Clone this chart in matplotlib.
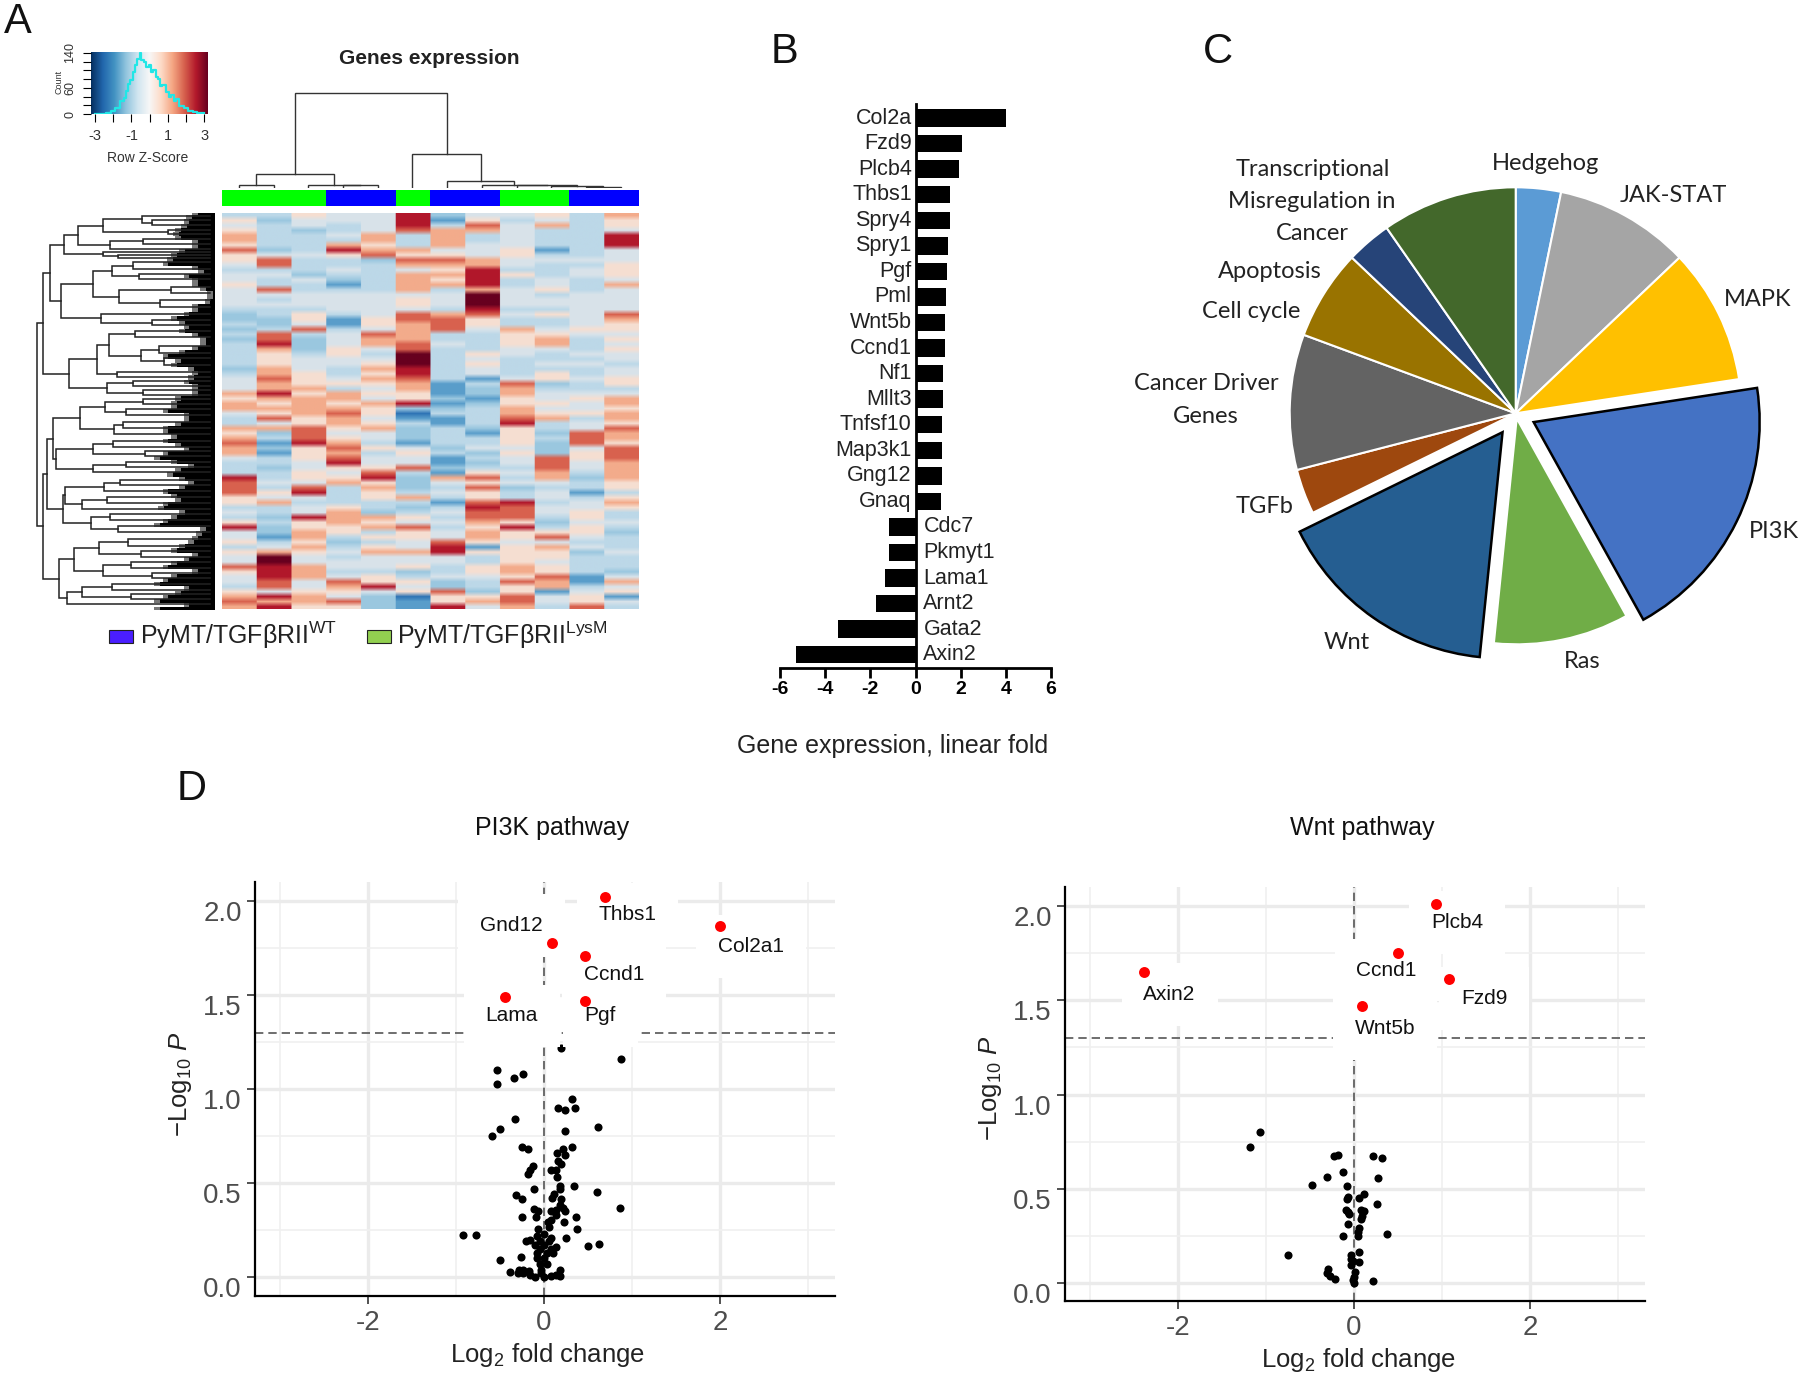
import matplotlib
matplotlib.use('Agg')
import matplotlib.pyplot as plt
import numpy as np
from matplotlib.colors import LinearSegmentedColormap, ListedColormap
from matplotlib.patches import Rectangle

plt.rcParams['font.family'] = ['Liberation Sans', 'DejaVu Sans']
plt.rcParams['mathtext.fontset'] = 'custom'
plt.rcParams['mathtext.rm'] = 'Liberation Sans'
plt.rcParams['mathtext.it'] = 'Liberation Sans:italic'
plt.rcParams['mathtext.bf'] = 'Liberation Sans:bold'
plt.rcParams['axes.unicode_minus'] = False

W, H = 1800, 1377

# A: heatmap levels, one string per row, 0 = deep blue ... 9 = darkest red
heat_rows = [
    '335448244536', '524448153435', '434348374635', '532347664334', '633463634338',
    '633363634338', '533653644338', '723866445134', '544575545334', '573327764444',
    '473336664335', '333434583345', '442336685345', '434236583434', '533136683436',
    '473336364534', '444444494344', '434445494444', '444445494444', '333444383344',
    '235347674547', '225157753346', '324156753345', '237346746455', '373476335544',
    '272466335635', '382467435634', '362547334435', '353539354344', '354449343334',
    '354459353443', '264368343334', '365358343534', '475467314545', '465556137235',
    '466346126333', '685655126444', '566645215456', '656568125546', '666652236445',
    '456750336556', '375641137636', '345653138345', '667562325347', '527442315276',
    '637542335376', '718631335275', '625754244247', '615635325257', '435744134757',
    '334844124746', '324557233746', '335473154636', '835582673626', '744652454435',
    '737362372335', '758353453413', '544356353435', '563333178346', '334532387445',
    '434623477453', '328665377353', '535654465244', '825567358353', '426535465552',
    '416355465743', '535234754433', '346354815643', '565466855524', '494344435533',
    '494444435433', '786445356533', '586332356532', '486453445714', '474755237616',
    '374684235634', '545545725145', '686420557451', '766721567454', '685521846373',
]
column_groups = [0, 0, 0, 1, 1, 0, 1, 1, 0, 0, 1, 1]
col_tree = (225, (33, (7, 0, 1), (7, 2, (6, 3, 4))),
            (81, 5, (17, 6, (7, 7, (6, 8, (5, 9, (3, 10, 11)))))))
row_tree = (88,
            (101,
             (118,
              (152,
               (185, (245, (338, 512, (360, 522, 534)), (398, 545, 556)), (262, (340, 566, 578), 590)),
               (245, 598, (280, 604, 612))),
              (145,
               (222, (265, (315, 622, 638), (330, 650, 662)), (282, (405, 680, 696), (380, 712, 728))),
               (240, 745, (360, 760, 772)))),
             (165,
              (230, (260, (320, 786, 800), (335, (378, 822, 838), (390, 850, 866))), (278, 882, 894)),
              (255, (315, 904, 916), (340, 926, 938)))),
            (101,
             (111,
              (127,
               (190, (250, (340, 948, 960), (300, 972, 986)), (270, (292, 1002, 1016), 1030)),
               (132, (222, (268, 1048, 1062), (345, 1072, 1084)), (222, (300, 1098, 1110), 1122))),
              (150,
               (155, (248, (285, 1140, 1152), 1166), (195, (255, 1180, 1194), 1208)),
               (215, (262, 1222, 1236), (280, 1250, 1264)))),
             (141,
              (175, (235, (305, 1280, 1296), (335, 1310, 1322)), (245, (310, 1336, 1350), (360, 1362, 1374))),
              (160, (195, (265, 1388, 1402), (310, 1412, 1424)), 1436))))
row_edge = [470, 455, 450, 445, 430, 425, 430, 470, 470, 440, 420, 410, 400, 470, 485, 450, 470, 470, 490, 505,
            505, 500, 470, 470, 450, 420, 440, 450, 440, 470, 490, 490, 470, 440, 400, 430, 420, 460, 470, 460,
            450, 470, 470, 470, 430, 420, 420, 400, 450, 450, 430, 400, 400, 420, 400, 430, 450, 400, 380, 420,
            460, 430, 410, 440, 460, 440, 400, 420, 430, 400, 390, 440, 420, 400, 380, 490, 480, 470, 460, 440,
            420, 470, 450, 420, 400, 470, 420, 400, 380, 450, 430, 400, 380, 450, 380]
hist_z = [-3, -2.75, -2.5, -2.25, -2, -1.75, -1.5, -1.35, -1.25, -1.1, -1, -0.85, -0.75, -0.6, -0.5, -0.4, -0.25, -0.1,
          0, 0.15, 0.25, 0.4, 0.5, 0.65, 0.75, 1, 1.1, 1.25, 1.4, 1.5, 1.75, 2, 2.25, 2.5, 2.75, 3]
hist_count = [0, 0, 1, 3, 8, 14, 30, 36, 52, 68, 78, 96, 112, 126, 140, 124, 118, 108, 112, 96, 100, 84, 80, 64, 66, 50,
              40, 44, 30, 34, 18, 14, 7, 4, 2, 3]

# B
genes_up = ['Col2a', 'Fzd9', 'Plcb4', 'Thbs1', 'Spry4', 'Spry1', 'Pgf', 'Pml', 'Wnt5b', 'Ccnd1', 'Nf1', 'Mllt3',
            'Tnfsf10', 'Map3k1', 'Gng12', 'Gnaq']
fold_up = [4.0, 2.05, 1.92, 1.54, 1.51, 1.42, 1.39, 1.33, 1.30, 1.29, 1.2, 1.2, 1.19, 1.17, 1.17, 1.14]
genes_down = ['Cdc7', 'Pkmyt1', 'Lama1', 'Arnt2', 'Gata2', 'Axin2']
fold_down = [-1.17, -1.18, -1.33, -1.76, -3.43, -5.27]

# C
pie_names = ['Hedgehog', 'JAK-STAT', 'MAPK', 'PI3K', 'Ras', 'Wnt', 'TGFb', 'Cancer Driver', 'Cell cycle', 'Apoptosis',
             'Transcriptional']
pie_counts = [1, 3, 3, 6, 3, 5, 1, 3, 2, 1, 3]
pie_colors = ['#5b9bd5', '#a5a5a5', '#ffc000', '#4472c4', '#70ad47', '#255e91', '#9e480e', '#636363', '#997300',
              '#264478', '#43682b']
pie_explode = [0, 0, 0, 0.0625, 0.016, 0.072, 0, 0, 0, 0, 0]

# D
pi3k_x = [-.30, .19, .87, -.54, -.24, -.34, -.54, .32, .16, .24, .35, -.33, .61, -.50, .24, -.59, .32, -.25, -.18, .21,
          .15, .24, .16, .19, -.13, -.16, -.18, .08, .13, .15, .18, .18, .34, -.12, .60, .115, .095, -.325, -.25, .19,
          .18, -.115, -.07, .86, .08, .13, .21, .24, .13, -.25, -.095, .36, .08, .04, .225, .05, -.07, .37, -.92, -.77,
          0, -.08, .08, .25, -.16, -.21, -.05, .05, -.10, 0, .13, -.05, .08, .50, .63, -.08, .03, .10, -.26, -.08, 0,
          -.50, -.05, .03, -.03, .18, -.39, -.29, -.24, -.30, -.17, -.24, -.16, -.10, 0, .08, .18, -.03, .13]
pi3k_y = [1.25, 1.22, 1.16, 1.10, 1.08, 1.06, 1.03, .95, .90, .89, .90, .84, .80, .79, .78, .75, .69, .69, .68, .68,
          .66, .65, .62, .60, .59, .57, .55, .57, .57, .535, .485, .47, .485, .47, .455, .445, .42, .435, .415, .415,
          .385, .365, .35, .37, .35, .355, .37, .35, .33, .32, .32, .32, .305, .295, .295, .265, .255, .255, .225, .225,
          .23, .22, .21, .21, .20, .19, .19, .19, .17, .17, .16, .15, .15, .165, .175, .13, .13, .13, .105, .10, .10,
          .09, .07, .07, .04, .04, .026, .04, .04, .02, .035, .02, .01, 0, 0, .005, .005, .02, .01]
pi3k_hit_x = [.69, 2.0, .09, .47, -.45, .47]
pi3k_hit_y = [2.02, 1.87, 1.78, 1.71, 1.49, 1.47]
pi3k_names = ['Thbs1', 'Col2a1', 'Gnd12', 'Ccnd1', 'Lama', 'Pgf']
pi3k_label_x = [.95, 2.35, -.37, .80, -.37, .64]
pi3k_label_y = [1.93, 1.76, 1.87, 1.61, 1.39, 1.39]

wnt_x = [.19, -1.07, -1.18, -.23, -.18, .21, .32, -.13, -.31, .27, -.48, -.08, .11, .05, -.07, -.08, .26, -.09, .08,
         .115, -.07, -.06, .09, .08, -.07, .05, .04, .04, .37, -.13, .06, -.75, -.04, -.04, -.01, .05, -.03, .01, -.30,
         -.31, -.27, -.22, 0, -.01, 0, .21]
wnt_y = [1.22, .80, .72, .675, .68, .675, .665, .59, .565, .555, .52, .515, .475, .45, .455, .445, .42, .39, .39, .385,
         .375, .365, .355, .34, .315, .29, .27, .25, .26, .25, .165, .15, .15, .13, .115, .11, .095, .06, .075, .055,
         .04, .02, .03, .015, 0, .01]
wnt_hit_x = [.93, .50, -2.39, 1.08, .09]
wnt_hit_y = [2.01, 1.75, 1.65, 1.61, 1.47]
wnt_names = ['Plcb4', 'Ccnd1', 'Axin2', 'Fzd9', 'Wnt5b']
wnt_label_x = [1.17, .37, -2.1, 1.48, .35]
wnt_label_y = [1.91, 1.66, 1.53, 1.51, 1.35]


fig = plt.figure(figsize=(W / 100, H / 100), dpi=100, facecolor='white')


def axes_px(left, top, right, bottom):
    return fig.add_axes([left / W, 1 - bottom / H, (right - left) / W, (bottom - top) / H])


def text_px(x, y, s, **kw):
    kw.setdefault('ha', 'center')
    kw.setdefault('va', 'center')
    fig.text(x / W, 1 - y / H, s, **kw)


def draw_col_tree(ax, node):
    if not isinstance(node, tuple):
        return node, 0
    xa, ha = draw_col_tree(ax, node[1])
    xb, hb = draw_col_tree(ax, node[2])
    ax.plot([xa, xa, xb, xb], [ha, node[0], node[0], hb], color='#333333', lw=1, solid_joinstyle='miter')
    return (xa + xb) / 2, node[0]


def draw_row_tree(ax, node):
    if not isinstance(node, tuple):
        return node, 500
    ya, xa = draw_row_tree(ax, node[1])
    yb, xb = draw_row_tree(ax, node[2])
    ax.plot([xa, node[0], node[0], xb], [ya, ya, yb, yb], color='#222222', lw=1.1, solid_joinstyle='miter')
    return (ya + yb) / 2, node[0]


# ---- panel A
heat = np.array([[int(c) for c in row] for row in heat_rows])
heat_cmap = LinearSegmentedColormap.from_list(
    'heat', ['#2f74b5', '#5a9ecb', '#9cc8e0', '#bcd8e8', '#d9e3ea', '#f6dfd2', '#f3ab8b', '#d9634f', '#b2182b',
             '#67001f'])
ax = axes_px(221.5, 213, 638, 609)
# repeat sideways so bilinear only softens the rows, not the column edges
ax.imshow(np.repeat(heat, 40, axis=1), aspect='auto', cmap=heat_cmap, vmin=0, vmax=9, interpolation='bilinear')
ax.axis('off')

ax = axes_px(221.5, 190, 638, 206)
ax.imshow([column_groups], aspect='auto', cmap=ListedColormap(['#00ff00', '#0000ff']), interpolation='nearest')
ax.axis('off')

ax = axes_px(221.5, 90, 638, 188)
draw_col_tree(ax, col_tree)
ax.set_xlim(-0.5, 11.5)
ax.set_ylim(0, 233)
ax.axis('off')

ax = axes_px(35.4, 213, 214.7, 609.5)
draw_row_tree(ax, row_tree)
edge_y = np.linspace(505, 1448, len(row_edge))
ax.fill_betweenx(edge_y, np.array(row_edge) - 14, 510, step='mid', color='#777777', lw=0)
ax.fill_betweenx(edge_y, row_edge, 510, step='mid', color='black', lw=0)
ax.set_xlim(84, 510)
ax.set_ylim(1448, 505)
ax.axis('off')

ax = axes_px(91.4, 52, 207.6, 114)
ax.imshow([np.linspace(0, 1, 256)], aspect='auto', cmap='RdBu_r', extent=(-3.2, 3.19, 0, 142), zorder=0)
ax.step(hist_z, hist_count, where='mid', color='#22e6e6', lw=1.6)
ax.set_xlim(-3.2, 3.19)
ax.set_ylim(0, 142)
ax.set_xticks(range(-3, 4))
ax.set_xticklabels(['-3', '', '-1', '', '1', '', '3'], fontsize=10.5, color='#333333')
ax.set_yticks(range(0, 141, 20))
ax.set_yticklabels(['0', '', '', '60', '', '', '', '140'], fontsize=9, rotation=90, va='center', color='#333333')
ax.tick_params(length=6, width=0.8, pad=5)
for s in ax.spines.values():
    s.set_visible(False)
text_px(148, 158, 'Row Z-Score', fontsize=10, color='#333333')
text_px(59, 82, 'Count', fontsize=6.5, rotation=90, color='#333333')
text_px(429, 58, 'Genes expression', fontsize=15, fontweight='bold', color='#222222')

fig.add_artist(Rectangle((109 / W, 1 - 643 / H), 24 / W, 13 / H, transform=fig.transFigure, fc='#4a1eff', ec='#222222',
                         lw=0.8))
fig.add_artist(Rectangle((367 / W, 1 - 643 / H), 24 / W, 13 / H, transform=fig.transFigure, fc='#92d050', ec='#222222',
                         lw=0.8))
text_px(140, 644, r'PyMT/TGFβRII$^{\mathrm{WT}}$', ha='left', va='baseline', fontsize=18, color='#222222')
text_px(397, 644, r'PyMT/TGFβRII$^{\mathrm{LysM}}$', ha='left', va='baseline', fontsize=18, color='#222222')

# ---- panel B
ax = axes_px(780, 104, 1051, 667.5)
genes = genes_up + genes_down
folds = fold_up + fold_down
ypos = np.arange(len(genes))
ax.barh(ypos, folds, height=0.68, color='black')
for i, g in enumerate(genes):
    if folds[i] > 0:
        ax.text(-0.17, i, g, ha='right', va='center', fontsize=15.5, color='#222222')
    else:
        ax.text(0.35, i, g, ha='left', va='center', fontsize=15.5, color='#222222')
ax.set_xlim(-6, 6)
ax.set_ylim(21.5, -0.55)
ax.set_yticks([])
ax.set_xticks(range(-6, 7, 2))
ax.tick_params(axis='x', labelsize=14, width=2, length=7, pad=3)
for lab in ax.get_xticklabels():
    lab.set_fontweight('bold')
ax.patch.set_alpha(0)
ax.spines['left'].set_position(('data', 0))
ax.spines['left'].set_linewidth(2)
ax.spines['bottom'].set_linewidth(2)
ax.spines['top'].set_visible(False)
ax.spines['right'].set_visible(False)
text_px(893, 746, 'Gene expression, linear fold', fontsize=18, color='#222222')

# ---- panel C
ax = axes_px(1515.7 - 320, 413.3 - 320, 1515.7 + 320, 413.3 + 320)
wedges, _ = ax.pie(pie_counts, colors=pie_colors, explode=pie_explode, startangle=90, counterclock=False,
                   radius=226 / 320, wedgeprops={'edgecolor': 'white', 'linewidth': 1.5})
wedges[3].set(edgecolor='black', linewidth=1.8)
wedges[5].set(edgecolor='black', linewidth=1.8)
ax.set_xlim(-1, 1)
ax.set_ylim(-1, 1)
pie_font = {'family': ['Lato', 'DejaVu Sans'], 'fontsize': 17, 'color': '#222222'}
text_px(1546, 163, 'Hedgehog', **pie_font)
text_px(1673, 195, 'JAK-STAT', **pie_font)
text_px(1758, 299, 'MAPK', **pie_font)
text_px(1774, 531, 'PI3K', **pie_font)
text_px(1582, 662, 'Ras', **pie_font)
text_px(1347, 643, 'Wnt', **pie_font)
text_px(1265, 507, 'TGFb', **pie_font)
text_px(1206, 384, 'Cancer Driver', **pie_font)
text_px(1206, 416, 'Genes', **pie_font)
text_px(1251, 312, 'Cell cycle', **pie_font)
text_px(1270, 271, 'Apoptosis', **pie_font)
text_px(1313, 169, 'Transcriptional', **pie_font)
text_px(1312, 201, 'Misregulation in', **pie_font)
text_px(1312, 233, 'Cancer', **pie_font)


# ---- panel D
def volcano(pos, ylim, xs, ys, hit_x, hit_y, names, label_x, label_y):
    ax = axes_px(*pos)
    ax.set_xlim(-3.29, 3.31)
    ax.set_ylim(*ylim)
    ax.set_xticks([-2, 0, 2])
    ax.set_xticks([-3, -1, 1, 3], minor=True)
    ax.set_yticks([0, 0.5, 1, 1.5, 2])
    ax.set_yticklabels(['0.0', '0.5', '1.0', '1.5', '2.0'])
    ax.set_yticks([0.25, 0.75, 1.25, 1.75], minor=True)
    ax.grid(which='major', color='#ebebeb', lw=2.4, zorder=0)
    ax.grid(which='minor', color='#f0f0f0', lw=1.2, zorder=0)
    ax.set_axisbelow(True)
    ax.axvline(0, color='#555555', lw=1.2, ls=(0, (5, 3)), zorder=1)
    ax.axhline(1.3, color='#555555', lw=1.2, ls=(0, (5, 3)), zorder=1)
    ax.scatter(xs, ys, s=34, color='black', lw=0, zorder=2)
    for n, lx, ly in zip(names, label_x, label_y):
        ax.text(lx, ly, n, ha='center', va='center', fontsize=15, color='#111111', zorder=3,
                bbox=dict(boxstyle='square,pad=1.05', fc='white', ec='none'))
    ax.scatter(hit_x, hit_y, s=62, color='#ff0000', lw=0, zorder=4)
    ax.tick_params(which='minor', length=0)
    ax.tick_params(which='major', labelsize=20, labelcolor='#4d4d4d', color='#333333', width=1.2, length=6)
    ax.tick_params(axis='x', which='major', pad=4)
    for lab in ax.get_yticklabels():
        lab.set_verticalalignment('top')
    ax.spines['top'].set_visible(False)
    ax.spines['right'].set_visible(False)
    ax.spines['left'].set_linewidth(1.6)
    ax.spines['bottom'].set_linewidth(1.6)
    return ax


volcano((255, 882.4, 835, 1296), (-0.1, 2.1), pi3k_x, pi3k_y, pi3k_hit_x, pi3k_hit_y, pi3k_names, pi3k_label_x,
        pi3k_label_y)
volcano((1065, 887, 1645, 1300.7), (-0.093, 2.1), wnt_x, wnt_y, wnt_hit_x, wnt_hit_y, wnt_names, wnt_label_x,
        wnt_label_y)
xlab = r'Log$_{2}$ fold change'
ylab = r'$-$Log$_{10}$ $\mathit{P}$'
text_px(552, 828, 'PI3K pathway', fontsize=18, color='#111111')
text_px(1362, 828, 'Wnt pathway', fontsize=18, color='#111111')
text_px(548, 1355, xlab, fontsize=18.5, color='#222222')
text_px(1359, 1360, xlab, fontsize=18.5, color='#222222')
text_px(181, 1084, ylab, fontsize=18.5, rotation=90, color='#222222')
text_px(990, 1088, ylab, fontsize=18.5, rotation=90, color='#222222')

# panel letters
text_px(18, 22, 'A', fontsize=30, color='#111111')
text_px(785, 52, 'B', fontsize=30, color='#111111')
text_px(1218, 52, 'C', fontsize=30, color='#111111')
text_px(192, 789, 'D', fontsize=30, color='#111111')

fig.savefig('out.png', dpi=100, facecolor='white')
